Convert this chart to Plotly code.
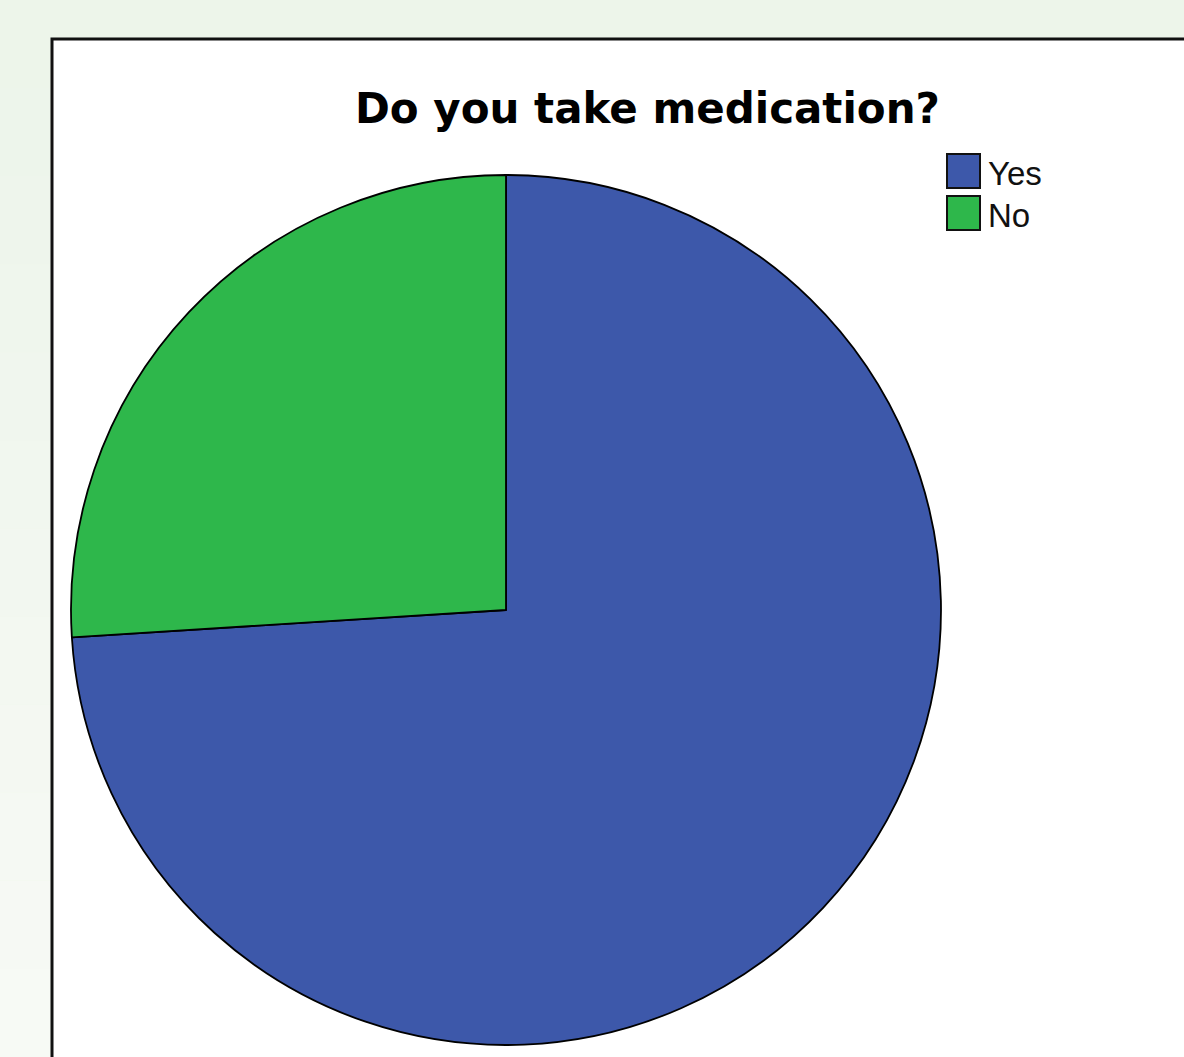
import plotly.graph_objects as go

W, H = 1184, 1057

# Data
labels = ["Yes", "No"]
values = [74, 26]
colors = ["#3d58aa", "#2eb74b"]
title_text = "Do you take medication?"

def px_x(x):
    return x / W

def px_y(y):
    return 1 - y / H

fig = go.Figure()
fig.add_trace(go.Pie(
    labels=labels,
    values=values,
    sort=False,
    direction="clockwise",
    rotation=0,
    textinfo="none",
    marker=dict(colors=colors, line=dict(color="#000000", width=1.8)),
    domain=dict(x=[px_x(71), px_x(941)], y=[px_y(1045), px_y(175)]),
    showlegend=False,
))

shapes = []
# subtle vertical gradient in page background
nb = 12
for i in range(nb):
    t = i / (nb - 1)
    r = int(0xed + (0xf7 - 0xed) * t)
    g = int(0xf5 + (0xfa - 0xf5) * t)
    b = int(0xea + (0xf5 - 0xea) * t)
    shapes.append(dict(type="rect", xref="paper", yref="paper",
                       x0=0, x1=1, y0=1 - (i + 1) / nb, y1=1 - i / nb,
                       fillcolor=f"rgb({r},{g},{b})", line=dict(width=0), layer="below"))
# white chart frame
shapes.append(dict(type="rect", xref="paper", yref="paper",
                   x0=px_x(52), x1=1.05, y0=-0.05, y1=px_y(39),
                   fillcolor="#ffffff", line=dict(color="#111111", width=3), layer="below"))

annotations = [dict(text=title_text, x=px_x(647), y=px_y(109), xref="paper", yref="paper",
                    xanchor="center", yanchor="middle", showarrow=False,
                    font=dict(family="DejaVu Sans", size=42, color="#000000", weight="bold"))]

# custom legend
for i, (lab, col) in enumerate(zip(labels, colors)):
    top = 154 + i * 42
    shapes.append(dict(type="rect", xref="paper", yref="paper",
                       x0=px_x(947), x1=px_x(980), y0=px_y(top + 34), y1=px_y(top),
                       fillcolor=col, line=dict(color="#111111", width=2), layer="above"))
    annotations.append(dict(text=lab, x=px_x(986), y=px_y(top + 20), xref="paper", yref="paper",
                            xanchor="left", yanchor="middle", showarrow=False,
                            font=dict(family="Liberation Sans", size=33, color="#111111")))

fig.update_layout(
    width=W, height=H,
    margin=dict(l=0, r=0, t=0, b=0),
    paper_bgcolor="#eef5eb",
    plot_bgcolor="#ffffff",
    shapes=shapes,
    annotations=annotations,
    showlegend=False,
)

fig.write_html("out.html")
